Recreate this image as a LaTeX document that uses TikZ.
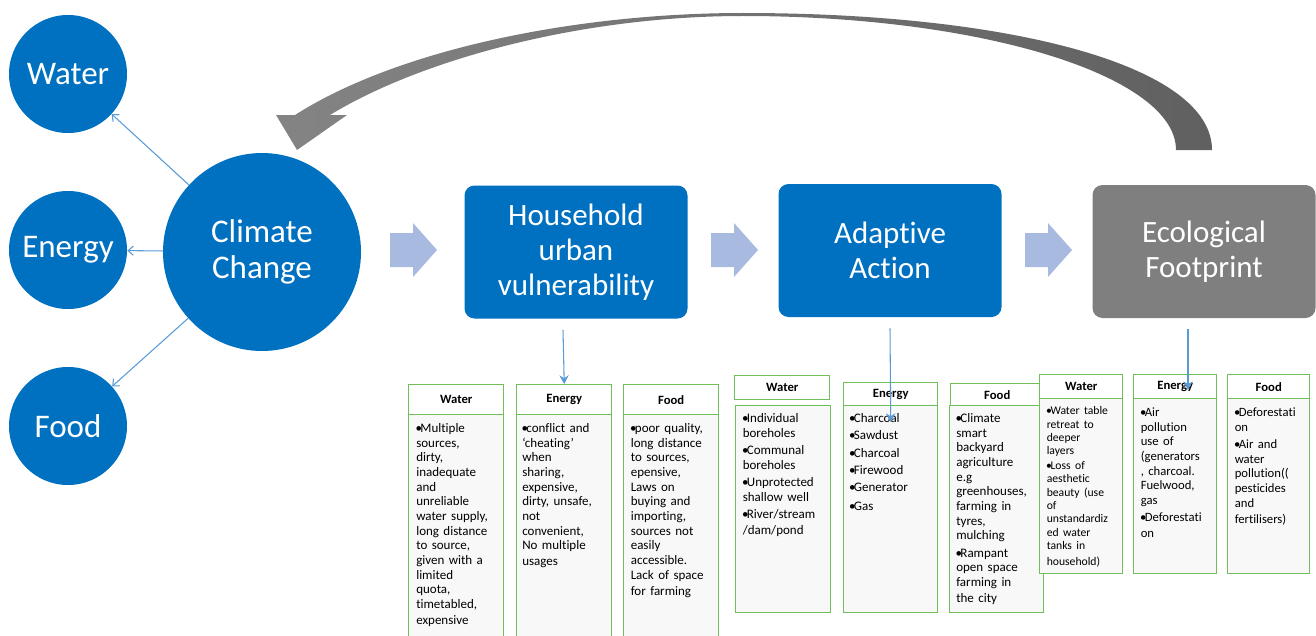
\documentclass[tikz,border=0pt]{standalone}
\usepackage{fontspec}
\setmainfont{Carlito}[Ligatures=NoCommon]
\usetikzlibrary{arrows.meta,calc}

\definecolor{ccblue}{RGB}{0,112,192}
\definecolor{fpgrey}{RGB}{127,127,127}
\definecolor{flowarrow}{RGB}{168,186,223}
\definecolor{linkblue}{RGB}{91,155,213}
\definecolor{panelgreen}{RGB}{112,191,90}
\definecolor{panelfill}{RGB}{248,248,248}
\definecolor{loopleft}{RGB}{132,132,132}
\definecolor{loopright}{RGB}{96,96,96}

% hanging bullet paragraphs
\newlength{\bw}
\newcommand{\bul}[1]{\par\noindent\hangindent=\bw\hangafter=1\makebox[\bw][l]{\hspace{-0.05em}\textbullet}\strut#1}
\newcommand{\gone}{\fontsize{9.75pt}{11pt}\selectfont\setlength{\bw}{0.32em}}
\newcommand{\gtwo}{\fontsize{9.75pt}{11pt}\selectfont\setlength{\bw}{0.32em}\setlength{\parskip}{2pt}}
\newcommand{\gthree}{\fontsize{8.75pt}{10pt}\selectfont\setlength{\bw}{0.32em}\setlength{\parskip}{1.1pt}}
\newcommand{\gthreeb}{\fontsize{9.5pt}{11pt}\selectfont\setlength{\bw}{0.32em}\setlength{\parskip}{2pt}}

\tikzset{
  hub/.style={circle, fill=ccblue, text=white, inner sep=0pt, align=center,
    font=\fontsize{24.75pt}{27pt}\selectfont},
  stage/.style={rectangle, rounded corners=7.5pt, fill=ccblue, text=white,
    minimum width=167.25pt, minimum height=99.75pt, align=center,
    font=\fontsize{23.25pt}{26.25pt}\selectfont},
  flow/.style={fill=flowarrow},
  link/.style={draw=linkblue, line width=0.8pt, -{Straight Barb[length=4pt,width=7pt]}},
  droplink/.style={draw=linkblue, line width=0.8pt, -{Stealth[length=6.5pt,width=7pt]}},
  hdr/.style={rectangle, draw=panelgreen, line width=1.1pt, fill=white,
    anchor=north west, inner sep=0pt},
  hdrA/.style={hdr, font=\bfseries\fontsize{9.5pt}{11pt}\selectfont},
  bodybox/.style={rectangle, draw=panelgreen, line width=1.1pt, fill=panelfill,
    anchor=north west, inner sep=0pt},
  bodytext/.style={anchor=north west, inner sep=0pt, align=left}
}

\newcommand{\flowshape}[1]{%
  \fill[flow] (#1,233) -- ++(23,0) -- ++(0,-10) -- ++(24,27) -- ++(-24,27)
    -- ++(0,-10) -- ++(-23,0) -- cycle;}

\begin{document}
\begin{tikzpicture}[x=0.75pt,y=-0.75pt]
\useasboundingbox (0,0) rectangle (1316,635);
\clip (0,0) rectangle (1316,635);

% feedback loop from the footprint back to climate change
\shade[left color=loopleft, right color=loopright]
  (1212,150) .. controls (1212,66) and (1012,13) .. (743,13)
  .. controls (580,13) and (400,48) .. (295,115)
  -- (276,115) -- (297,150) -- (347,115) -- (330,115)
  .. controls (420,60) and (580,16) .. (743,16)
  .. controls (982,16) and (1176,76) .. (1176,150) -- cycle;

% climate change and the three sectors
\node[hub, minimum size=88.5pt] (w) at (68,74) {Water};
\node[hub, minimum size=88.5pt] (e) at (68,250) {Energy};
\node[hub, minimum size=88.5pt] (f) at (68,426) {Food};
\node[hub, minimum size=148.5pt] (cc) at (262,252) {Climate\\Change};

\draw[link] (cc) -- (w);
\draw[link] (cc) -- (e);
\draw[link] (cc) -- (f);

% main stages
\node[stage] (hh) at (576,252) {Household\\urban\\vulnerability};
\node[stage] (aa) at (890,250.5) {Adaptive\\Action};
\node[stage, fill=fpgrey] (ef) at (1204,251.5) {Ecological\\Footprint};

\flowshape{390}
\flowshape{711}
\flowshape{1025}

% vulnerability panels
\node[bodybox, minimum width=71.25pt, minimum height=173.25pt] (g1wb) at (408,414) {};
\node[hdrA, minimum width=71.25pt, minimum height=22.5pt] (g1wh) at (408,384) {Water};
\node[bodytext, text width=66pt] (g1wt) at ($(g1wb.north west)+(8,3.5)$) {\gone\bul{Multiple\\sources,\\dirty,\\inadequate\\and\\unreliable\\water supply,\\long distance\\to source,\\given with a\\limited\\quota,\\timetabled,\\expensive}};

\node[bodybox, minimum width=71.25pt, minimum height=173.25pt] (g1eb) at (516,414) {};
\node[hdrA, minimum width=71.25pt, minimum height=22.5pt] (g1eh) at (516,384) {Energy};
\node[bodytext, text width=66pt] (g1et) at ($(g1eb.north west)+(6,3.5)$) {\gone\bul{conflict and\\‘cheating’\\when\\sharing,\\expensive,\\dirty, unsafe,\\not\\convenient,\\No multiple\\usages}};

\node[bodybox, minimum width=71.25pt, minimum height=173.25pt] (g1fb) at (623,414) {};
\node[hdrA, minimum width=71.25pt, minimum height=22.5pt] (g1fh) at (623,384) {Food};
\node[bodytext, text width=66pt] (g1ft) at ($(g1fb.north west)+(7.5,3.5)$) {\gone\bul{poor quality,\\long distance\\to sources,\\epensive,\\Laws on\\buying and\\importing,\\sources not\\easily\\accessible.\\Lack of space\\for farming}};

% adaptive action panels
\node[bodybox, minimum width=71.25pt, minimum height=155.25pt] (g2wb) at (735,405) {};
\node[hdrA, minimum width=71.25pt, minimum height=18pt] (g2wh) at (734,375) {Water};
\node[bodytext, text width=66pt] (g2wt) at ($(g2wb.north west)+(7.5,0)$) {\gtwo\bul{Individual\\boreholes}\bul{Communal\\boreholes}\bul{Unprotected\\shallow well}\bul{River/stream\\/dam/pond}};

\node[bodybox, minimum width=70.5pt, minimum height=155.25pt] (g2eb) at (843,405) {};
\node[hdrA, minimum width=70.5pt, minimum height=17.25pt] (g2eh) at (843,382) {Energy};
\node[bodytext, text width=66pt] (g2et) at ($(g2eb.north west)+(6.5,0)$) {\gtwo\bul{Charcoal}\bul{Sawdust}\bul{Charcoal}\bul{Firewood}\bul{Generator}\bul{Gas}};

\node[bodybox, minimum width=70.5pt, minimum height=155.25pt] (g2fb) at (949,405) {};
\node[hdrA, minimum width=69.75pt, minimum height=16.5pt] (g2fh) at (950,383) {Food};
\node[bodytext, text width=66pt] (g2ft) at ($(g2fb.north west)+(7,0)$) {\gtwo\bul{Climate\\smart\\backyard\\agriculture\\e.g\\greenhouses,\\farming in\\tyres,\\mulching}\bul{Rampant\\open space\\farming in\\the city}};

% footprint panels
\node[bodybox, minimum width=62.25pt, minimum height=131.25pt] (g3wb) at (1039,398) {};
\node[hdrA, minimum width=62.25pt, minimum height=18pt] (g3wh) at (1039,374) {Water};
\node[bodytext, text width=58pt] (g3wt) at ($(g3wb.north west)+(7.5,1.7)$) {\gthree\bul{Water table\\retreat to\\deeper\\layers}\bul{Loss of\\aesthetic\\beauty (use\\of\\unstandardiz\\ed water\\tanks in\\household)}};

\node[bodybox, minimum width=62.25pt, minimum height=131.25pt] (g3eb) at (1133,398) {};
\node[hdrA, minimum width=62.25pt, minimum height=18pt] (g3eh) at (1133,374) {Energy};
\node[bodytext, text width=60pt] (g3et) at ($(g3eb.north west)+(7.5,0.8)$) {\gthreeb\bul{Air\\pollution\\use of\\(generators\\, charcoal.\\Fuelwood,\\gas}\bul{Deforestati\\on}};

\node[bodybox, minimum width=61.5pt, minimum height=131.25pt] (g3fb) at (1227,398) {};
\node[hdrA, minimum width=61.5pt, minimum height=18pt] (g3fh) at (1227,374) {Food};
\node[bodytext, text width=60pt] (g3ft) at ($(g3fb.north west)+(7.5,0.8)$) {\gthreeb\bul{Deforestati\\on}\bul{Air and\\water\\pollution((\\pesticides\\and\\fertilisers)}};

% links from each stage down to its panels
\coordinate (aatip) at ($(g2eb.north)+(0,17)$);
\coordinate (eftip) at (1188,390);
\draw[droplink] ($(hh.south)+(-13,11)$) -- (g1eh.north);
\draw[droplink] ($(aa.south)+(0,11)$) -- (aatip);
\draw[droplink] ($(ef.south)+(-16,11)$) -- (eftip);
\end{tikzpicture}
\end{document}
